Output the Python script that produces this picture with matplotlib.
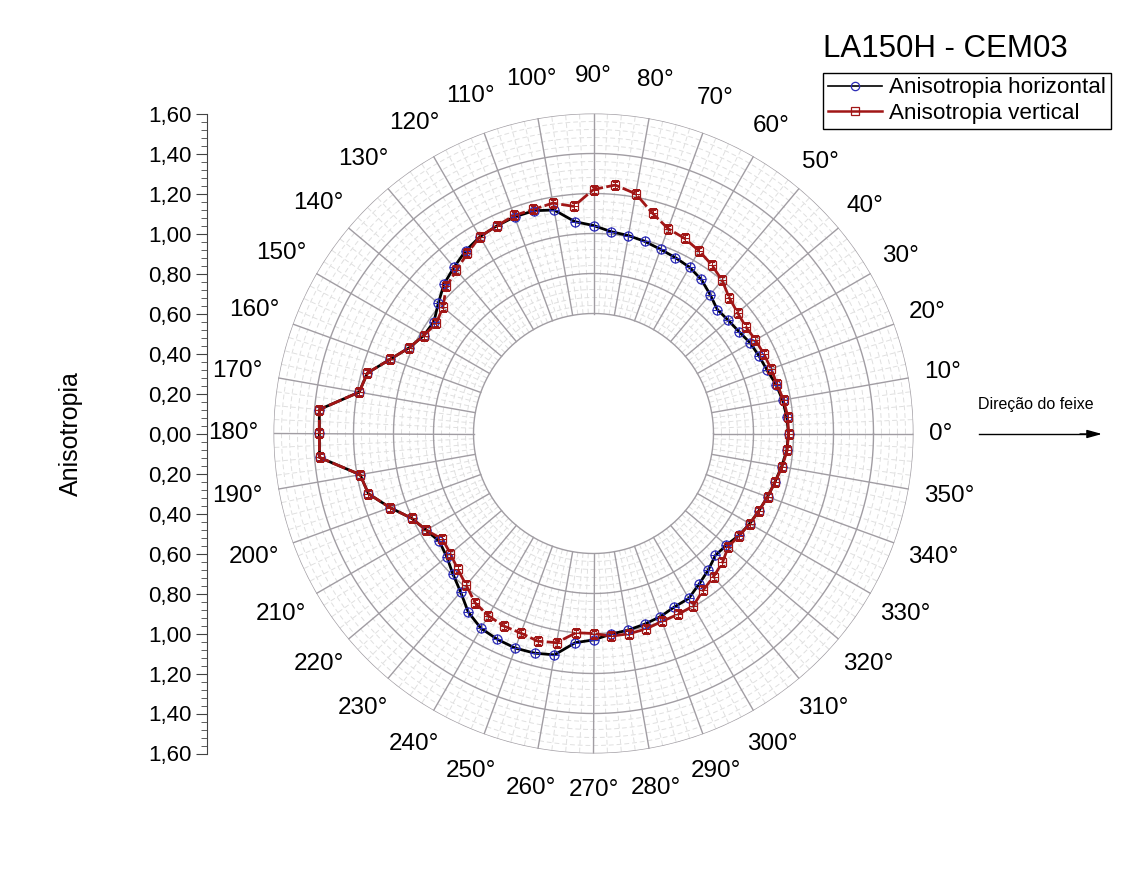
import numpy as np
import matplotlib.pyplot as plt

plt.rcParams['font.family'] = ['Liberation Sans', 'DejaVu Sans']

# direção em graus (passo de 5°)
angulos = np.arange(0, 360, 5)

aniso_horizontal = [
    0.975, 0.970, 0.960, 0.945, 0.924, 0.914, 0.905, 0.888, 0.880, 0.876,
    0.907, 0.940, 0.960, 0.970, 0.980, 0.994, 1.005, 1.013, 1.040, 1.063,
    1.135, 1.153, 1.153, 1.145, 1.136, 1.115, 1.085, 1.057, 1.013, 0.974,
    0.980, 1.016, 1.083, 1.170, 1.190, 1.376, 1.371, 1.375, 1.185, 1.165,
    1.083, 1.003, 0.966, 0.941, 0.958, 0.994, 1.034, 1.091, 1.125, 1.136,
    1.142, 1.137, 1.124, 1.050, 1.032, 1.007, 0.998, 0.987, 0.975, 0.957,
    0.952, 0.920, 0.892, 0.862, 0.868, 0.888, 0.902, 0.913, 0.926, 0.939,
    0.955, 0.970,
]

aniso_vertical = [
    0.975, 0.975, 0.965, 0.950, 0.945, 0.940, 0.935, 0.930, 0.940, 0.960,
    1.000, 1.030, 1.055, 1.077, 1.090, 1.140, 1.217, 1.247, 1.220, 1.140,
    1.170, 1.160, 1.160, 1.145, 1.136, 1.100, 1.066, 1.040, 0.983, 0.960,
    0.980, 1.016, 1.083, 1.170, 1.190, 1.376, 1.371, 1.375, 1.185, 1.165,
    1.083, 1.003, 0.966, 0.922, 0.934, 0.960, 0.990, 1.033, 1.052, 1.062,
    1.062, 1.075, 1.062, 1.000, 1.000, 1.017, 1.017, 1.012, 1.000, 0.998,
    0.996, 0.956, 0.934, 0.912, 0.880, 0.890, 0.902, 0.913, 0.926, 0.940,
    0.957, 0.972,
]

rotulos_angulo = np.arange(0, 360, 10)
r_min, r_max = 0.6, 1.6

W, H = 1128, 876
fig = plt.figure(figsize=(W / 100, H / 100), dpi=100)
fig.patch.set_facecolor('white')

# eixo polar: centro (593.5, 433.5) px, raio 320 px
cx, cy, R = 593.5, 433.5, 320
ax = fig.add_axes([(cx - R) / W, (H - cy - R) / H, 2 * R / W, 2 * R / H],
                  projection='polar')
ax.set_ylim(0, r_max)
ax.set_xticks([])
ax.set_yticks([])
ax.grid(False)
ax.spines['polar'].set_visible(False)

th = np.linspace(0, 2 * np.pi, 721)
cor_maior = '#a19da3'
cor_menor = '#e0e0e0'

# grade menor (tracejada)
for r in np.arange(r_min, r_max + 1e-9, 0.04):
    if abs(round(r / 0.2) * 0.2 - r) > 1e-6:
        ax.plot(th, np.full_like(th, r), color=cor_menor, lw=0.7,
                ls=(0, (5, 3)), zorder=1)
for a in np.arange(0, 360, 2.5):
    if a % 10 != 0:
        t = np.deg2rad(a)
        ax.plot([t, t], [r_min, r_max], color=cor_menor, lw=0.7,
                ls=(0, (5, 3)), zorder=1)

# grade maior
for r in np.arange(r_min, r_max + 1e-9, 0.2):
    ax.plot(th, np.full_like(th, r), color=cor_maior, lw=1.0, zorder=2)
for a in rotulos_angulo:
    t = np.deg2rad(a)
    ax.plot([t, t], [r_min, r_max], color=cor_maior, lw=1.0, zorder=2)

# rótulos de ângulo
px_por_unidade = R / r_max
for a in rotulos_angulo:
    t = np.deg2rad(a)
    txt = f'{a}°'
    meia_larg = {1: 12.5, 2: 19, 3: 25}[len(str(a))]
    s = abs(np.sin(t))
    d = 333 + 1.1 * meia_larg * abs(np.cos(t)) + 7 * s + 17 * s ** 8
    ax.text(t, d / px_por_unidade, txt, fontsize=17.5, ha='center', va='center',
            clip_on=False)

theta = np.deg2rad(np.append(angulos, angulos[0]))
rh = np.append(aniso_horizontal, aniso_horizontal[0])
rv = np.append(aniso_vertical, aniso_vertical[0])

azul = '#2b2bb5'
vermelho = '#a11616'

ax.plot(theta, rh, color='black', lw=2.0, zorder=5)
ax.plot(theta, rv, color=vermelho, lw=2.0, ls=(0, (5, 1.2)), zorder=6)
ax.plot(theta[:-1], rh[:-1], ls='none', marker='o', ms=6.5, mfc='none',
        mec=azul, mew=0.9, zorder=7)
ax.plot(theta[:-1], rh[:-1], ls='none', marker='+', ms=6.5, mec=azul,
        mew=0.7, zorder=7)
ax.plot(theta[:-1], rv[:-1], ls='none', marker='s', ms=6, mfc='none',
        mec=vermelho, mew=0.9, zorder=8)
ax.plot(theta[:-1], rv[:-1], ls='none', marker='+', ms=6, mec=vermelho,
        mew=0.7, zorder=8)

# eixo vertical de escala à esquerda
ax2 = fig.add_axes([207 / W, (H - cy - R) / H, 0.0005, 2 * R / H])
ax2.set_ylim(-r_max, r_max)
ax2.set_xticks([])
for s in ['top', 'right', 'bottom']:
    ax2.spines[s].set_visible(False)
ax2.spines['left'].set_color('#444444')
ax2.set_yticks(np.arange(-1.6, 1.61, 0.2))
ax2.set_yticks(np.arange(-1.6, 1.61, 0.04), minor=True)
ax2.set_yticklabels([f'{abs(v):.2f}'.replace('.', ',')
                     for v in np.arange(-1.6, 1.61, 0.2)])
ax2.tick_params(axis='y', which='major', length=8, width=0.8, labelsize=16,
                color='#444444', pad=3)
ax2.tick_params(axis='y', which='minor', length=4, width=0.6,
                color='#444444')
ax2.set_ylabel('Anisotropia', fontsize=18, labelpad=47)
ax2.patch.set_alpha(0)

# legenda
h1, = ax.plot([], [], color='black', lw=1.2, marker='o', ms=6, mfc='none',
              mec=azul, mew=0.9)
h2, = ax.plot([], [], color=vermelho, lw=1.8, marker='s', ms=5.5, mfc='none',
              mec=vermelho, mew=0.9)
leg = fig.legend([h1, h2], ['Anisotropia horizontal', 'Anisotropia vertical'],
                 loc='upper left', bbox_to_anchor=(823 / W, 1 - 73 / H),
                 fontsize=16.2, frameon=True, fancybox=False, framealpha=1,
                 edgecolor='black', handlelength=2.4, handletextpad=0.35,
                 labelspacing=0.2, borderpad=0.2, borderaxespad=0)
leg.get_frame().set_linewidth(1.0)

fig.text(823 / W, 1 - 57 / H, 'LA150H - CEM03', fontsize=22.5,
         ha='left', va='baseline')

# direção do feixe
fig.text(978 / W, 1 - 409 / H, 'Direção do feixe', fontsize=11.5,
         ha='left', va='baseline')
fig.add_artist(plt.Line2D([979 / W, 1085 / W], [1 - 434 / H, 1 - 434 / H],
                          color='black', lw=1.0))
ax.annotate('', xy=(1102 / W, 1 - 434 / H), xytext=(1080 / W, 1 - 434 / H),
            xycoords='figure fraction', textcoords='figure fraction',
            arrowprops=dict(arrowstyle='-|>,head_length=0.9,head_width=0.25',
                            color='black', lw=1.0, shrinkA=0, shrinkB=0))

fig.savefig('out.png', dpi=100, facecolor='white')
